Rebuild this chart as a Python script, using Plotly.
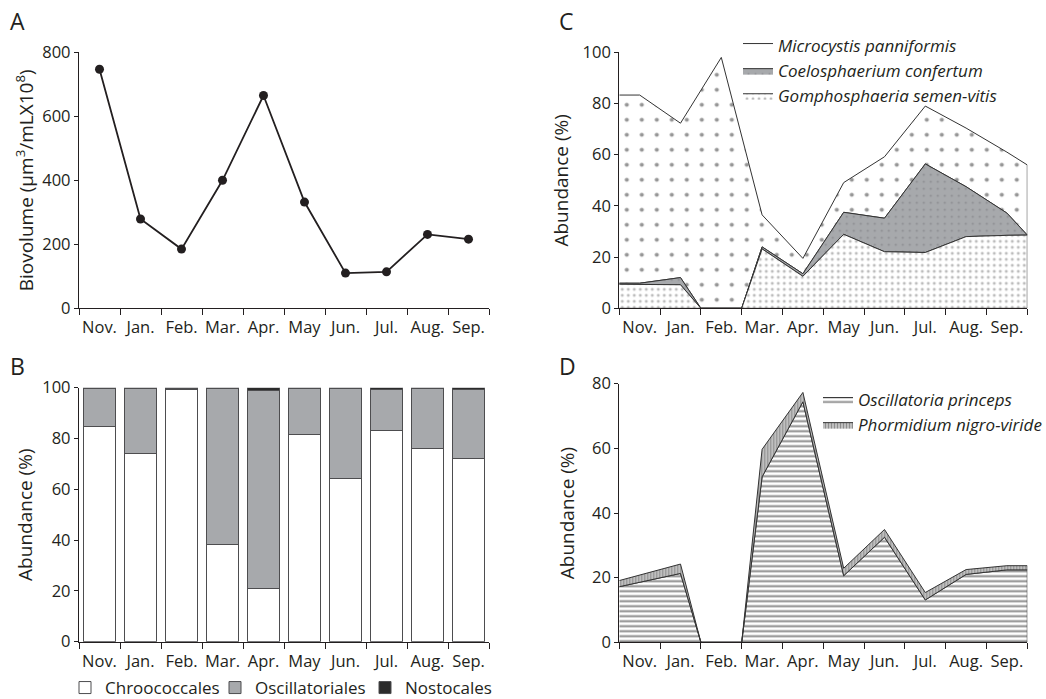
import plotly.graph_objects as go

# ---------------- data ----------------
months = ["Nov.", "Jan.", "Feb.", "Mar.", "Apr.", "May", "Jun.", "Jul.", "Aug.", "Sep."]

# Panel A: biovolume
biovolume = [747, 279, 185, 400, 665, 332, 110, 114, 231, 216]

# Panel B: relative abundance of orders (%)
chroococcales = [84.8, 74.1, 99.1, 38.2, 21.0, 81.5, 64.3, 83.3, 76.0, 72.2]
oscillatoriales = [15.0, 25.4, 0.7, 61.3, 78.0, 18.2, 35.4, 15.9, 23.6, 27.1]
nostocales = [0.2, 0.5, 0.2, 0.5, 1.0, 0.3, 0.3, 0.8, 0.4, 0.7]

# Panel C: Chroococcales species (%), stacked
gomphosphaeria = [9.4, 9.2, 0, 23.2, 12.5, 28.9, 22.1, 21.8, 28.0, 28.5]
coelosphaerium = [0.4, 2.8, 0, 0.8, 1.0, 8.6, 13.1, 34.6, 19.5, 8.7]
microcystis = [73.5, 60.3, 98.0, 12.5, 6.0, 11.6, 24.0, 22.6, 22.9, 23.8]
# values read at the left / right ends of the axis
c_left_edge = {"gomph": 9.4, "coelo": 0.4, "micro": 73.5}
c_right_edge = {"gomph": 28.6, "coelo": 0.0, "micro": 27.4}

# Panel D: Oscillatoriales species (%), stacked
oscillatoria = [18.6, 21.3, 0, 51.2, 74.4, 20.6, 32.5, 13.1, 21.0, 22.4]
phormidium = [2.2, 2.9, 0, 8.5, 2.9, 2.3, 2.4, 2.3, 1.5, 1.3]
d_left_edge = {"osc": 17.2, "phorm": 1.9}
d_right_edge = {"osc": 22.4, "phorm": 1.3}

# ---------------- style ----------------
FONT = "Open Sans"
INK = "#231f20"
W, H = 1046, 699
n = len(months)
xs = list(range(n))


def cum(*series):
    out = [0.0] * len(series[0])
    for s in series:
        out = [a + b for a, b in zip(out, s)]
    return out


def boundary(vals, left, right):
    """Path of a stacked boundary; zero months span their whole category."""
    bx, by = [-0.5], [left]
    for i, v in enumerate(vals):
        if v == 0:
            bx += [i - 0.5, i + 0.5]
            by += [0, 0]
        else:
            bx.append(i)
            by.append(v)
    bx.append(n - 0.5)
    by.append(right)
    return bx, by


def layer(lower, upper):
    lx, ly = lower
    ux, uy = upper
    return ux + lx[::-1], uy + ly[::-1]


fig = go.Figure()

# ---- Panel A ----
fig.add_trace(go.Scatter(
    x=xs, y=biovolume, mode="lines+markers", xaxis="x", yaxis="y",
    line=dict(color=INK, width=1.8), marker=dict(color=INK, size=9),
    showlegend=False))

# ---- Panel B ----
bar_line = dict(color="#4d4d4f", width=1)
fig.add_trace(go.Bar(x=xs, y=chroococcales, name="Chroococcales", xaxis="x2", yaxis="y2",
                     marker=dict(color="white", line=bar_line), width=0.76, legend="legend"))
fig.add_trace(go.Bar(x=xs, y=oscillatoriales, name="Oscillatoriales", xaxis="x2", yaxis="y2",
                     marker=dict(color="#a7a9ac", line=bar_line), width=0.76, legend="legend"))
fig.add_trace(go.Bar(x=xs, y=nostocales, name="Nostocales", xaxis="x2", yaxis="y2",
                     marker=dict(color="#2b2b2b", line=bar_line), width=0.76, legend="legend"))

# ---- Panel C ----
zero = [0.0] * n
b0 = boundary(zero, 0, 0)
b1 = boundary(gomphosphaeria, c_left_edge["gomph"], c_right_edge["gomph"])
b2 = boundary(cum(gomphosphaeria, coelosphaerium),
              c_left_edge["gomph"] + c_left_edge["coelo"],
              c_right_edge["gomph"] + c_right_edge["coelo"])
b3 = boundary(cum(gomphosphaeria, coelosphaerium, microcystis),
              c_left_edge["gomph"] + c_left_edge["coelo"] + c_left_edge["micro"],
              c_right_edge["gomph"] + c_right_edge["coelo"] + c_right_edge["micro"])

edge_line = dict(color="#333333", width=1)
px, py = layer(b2, b3)
fig.add_trace(go.Scatter(x=px, y=py, fill="toself", mode="lines", line=edge_line,
                         name="<i>Microcystis panniformis</i>", xaxis="x3", yaxis="y3",
                         fillcolor="white",
                         fillpattern=dict(shape=".", fgcolor="#2e2e2e", bgcolor="white",
                                          size=15, solidity=0.06),
                         legend="legend2"))
px, py = layer(b1, b2)
fig.add_trace(go.Scatter(x=px, y=py, fill="toself", mode="lines", line=edge_line,
                         name="<i>Coelosphaerium confertum</i>", xaxis="x3", yaxis="y3",
                         fillcolor="#a7a9ac",
                         fillpattern=dict(shape=".", fgcolor="#6d6e71", bgcolor="#a7a9ac",
                                          size=7, solidity=0.07),
                         legend="legend2"))
px, py = layer(b0, b1)
fig.add_trace(go.Scatter(x=px, y=py, fill="toself", mode="lines", line=edge_line,
                         name="<i>Gomphosphaeria semen-vitis</i>", xaxis="x3", yaxis="y3",
                         fillcolor="white",
                         fillpattern=dict(shape=".", fgcolor="#7a7a7a", bgcolor="white",
                                          size=6, solidity=0.2),
                         legend="legend2"))

# ---- Panel D ----
d1 = boundary(oscillatoria, d_left_edge["osc"], d_right_edge["osc"])
d2 = boundary(cum(oscillatoria, phormidium),
              d_left_edge["osc"] + d_left_edge["phorm"],
              d_right_edge["osc"] + d_right_edge["phorm"])
px, py = layer(b0, d1)
fig.add_trace(go.Scatter(x=px, y=py, fill="toself", mode="lines", line=edge_line,
                         name="<i>Oscillatoria princeps</i>", xaxis="x4", yaxis="y4",
                         fillcolor="white",
                         fillpattern=dict(shape="-", fgcolor="#1a1a1a", bgcolor="white",
                                          size=5, solidity=0.4),
                         legend="legend3"))
px, py = layer(d1, d2)
fig.add_trace(go.Scatter(x=px, y=py, fill="toself", mode="lines", line=edge_line,
                         name="<i>Phormidium nigro-viride</i>", xaxis="x4", yaxis="y4",
                         fillcolor="#bcbcbc",
                         fillpattern=dict(shape="|", fgcolor="#555555", bgcolor="#c4c4c4",
                                          size=3, solidity=0.4),
                         legend="legend3"))

# ---------------- axes ----------------
def px2x(p):
    return p / W


def px2y(p):
    return 1 - p / H


tickfont = dict(family=FONT, size=16.5, color=INK)


def xaxis(dom, anchor):
    return dict(domain=dom, anchor=anchor, range=[-0.5, n - 0.5], showgrid=False, zeroline=False,
                showline=True, linecolor=INK, linewidth=1.3, automargin=False,
                tickmode="array", tickvals=xs, ticktext=months,
                ticks="outside", ticklen=4, tickcolor="rgba(0,0,0,0)",
                tickfont=tickfont,
                minor=dict(tickmode="linear", tick0=-0.5, dtick=1, ticks="outside",
                           ticklen=6, tickcolor=INK, tickwidth=1.3, showgrid=False))


def yaxis(dom, anchor, rng, dtick, title, standoff):
    return dict(domain=dom, anchor=anchor, range=rng, dtick=dtick, showgrid=False,
                zeroline=False, showline=True, linecolor=INK, linewidth=1.3, automargin=False,
                ticks="outside", ticklen=4, tickcolor=INK, tickwidth=1.3,
                tickfont=tickfont,
                title=dict(text=title, font=dict(family=FONT, size=19, color=INK),
                           standoff=standoff))


xA = [px2x(79), px2x(489)]
xC = [px2x(619.3), px2x(1027.3)]

fig.update_layout(
    width=W, height=H, margin=dict(l=0, r=0, t=0, b=0, autoexpand=False),
    paper_bgcolor="white", plot_bgcolor="white",
    font=dict(family=FONT, color=INK),
    barmode="stack", bargap=0.24,
    xaxis=xaxis(xA, "y"),
    yaxis=yaxis([px2y(308.3), px2y(52.3)], "x", [0, 800], 200,
                "Biovolume (μm<sup>3</sup>/mLX10<sup>8</sup>)", 3),
    xaxis2=xaxis(xA, "y2"),
    yaxis2=yaxis([px2y(641.7), px2y(387.7)], "x2", [0, 100], 20, "Abundance (%)", 4),
    xaxis3=xaxis(xC, "y3"),
    yaxis3=yaxis([px2y(308.3), px2y(52.3)], "x3", [0, 100], 20, "Abundance (%)", 8),
    xaxis4=xaxis(xC, "y4"),
    yaxis4=yaxis([px2y(642.3), px2y(383.7)], "x4", [0, 80], 20, "Abundance (%)", 12),
    legend=dict(orientation="h", x=px2x(65), y=px2y(688), xanchor="left", yanchor="middle",
                font=dict(family=FONT, size=17, color=INK), bgcolor="rgba(0,0,0,0)",
                traceorder="normal", itemwidth=30, entrywidth=105, entrywidthmode="pixels"),
    legend2=dict(x=px2x(738), y=px2y(28), xanchor="left", yanchor="top",
                 font=dict(family=FONT, size=17, color=INK), bgcolor="rgba(0,0,0,0)",
                 traceorder="normal", tracegroupgap=0, itemwidth=30),
    legend3=dict(x=px2x(818), y=px2y(382), xanchor="left", yanchor="top",
                 font=dict(family=FONT, size=17, color=INK), bgcolor="rgba(0,0,0,0)",
                 traceorder="normal", tracegroupgap=0, itemwidth=30),
)

for letter, lx, ly in [("A", 8, 21), ("B", 8, 366), ("C", 557, 21), ("D", 557, 366)]:
    fig.add_annotation(text=letter, x=px2x(lx), y=px2y(ly), xref="paper", yref="paper",
                       xanchor="left", yanchor="middle", showarrow=False,
                       font=dict(family=FONT, size=23, color=INK))

fig.write_html("out.html", config={"displayModeBar": False},
               post_script="document.body.style.margin='0';")
